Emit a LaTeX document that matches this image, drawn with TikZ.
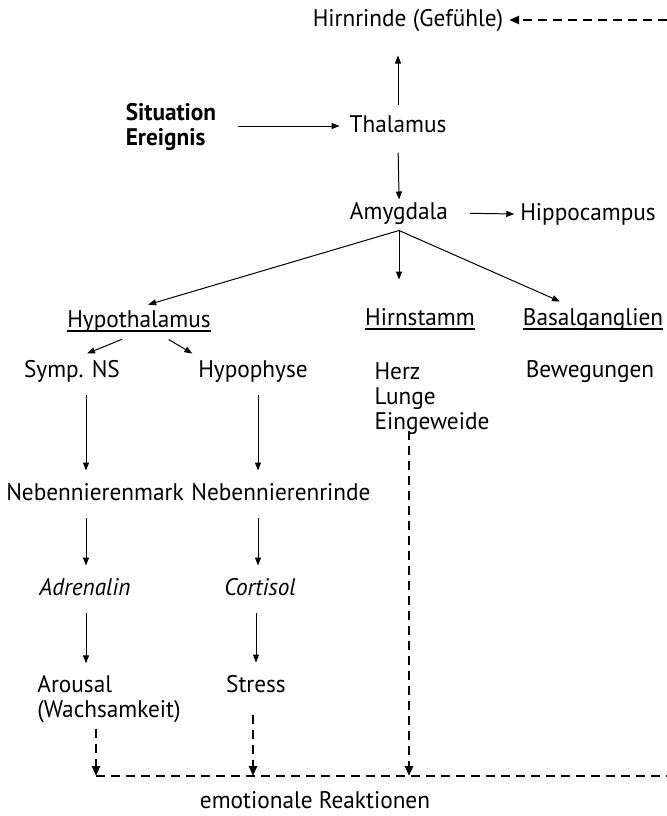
\documentclass[tikz,border=0pt]{standalone}
\usepackage{fontspec}
\setmainfont{PT Sans}[FakeStretch=0.97]
\usetikzlibrary{arrows.meta}
\newcommand{\unterstrich}[1]{\setbox0\hbox{#1}\rlap{\rule[-2pt]{\wd0}{0.6pt}}\box0}

\begin{document}
\begin{tikzpicture}[x=0.5pt, y=-0.5pt,
                every node/.style={inner sep=0pt, outer sep=3pt, font=\fontsize{12}{12.5}\selectfont},
                term/.style={text height=9pt, text depth=2.5pt},
                arr/.style={draw, line width=0.5pt, -{Triangle[length=4pt, width=3pt]}, shorten <=3pt, shorten >=3pt},
                dasharr/.style={draw, line width=1.2pt, dash pattern=on 4.5pt off 3pt, -{Triangle[length=5pt, width=4pt]}},
                dashline/.style={draw, line width=1.2pt, dash pattern=on 4.5pt off 3pt}]
                \useasboundingbox (0,0) rectangle (667,816);

                \node[term] (hirnrinde) at (408,20) {Hirnrinde (Gefühle)};
                \node[align=left, font=\fontsize{12}{12.5}\selectfont\bfseries] (situation) at (171,127) {Situation\\Ereignis};
                \node[term] (thalamus) at (398,126) {Thalamus};
                \node[term] (amygdala) at (399,213) {Amygdala};
                \node[term] (hippocampus) at (588,214) {Hippocampus};
                \node[term] (hypothalamus) at (139,321) {\unterstrich{Hypothalamus}};
                \node[term] (hirnstamm) at (420,319) {\unterstrich{Hirnstamm}};
                \node[term] (basalganglien) at (593,319) {\unterstrich{Basalganglien}};
                \node[term] (sympns) at (72,371) {Symp. NS};
                \node[term] (hypophyse) at (253,371) {Hypophyse};
                \node[align=left] (organe) at (432,399) {Herz\\Lunge\\Eingeweide};
                \node[term] (bewegungen) at (590,371) {Bewegungen};
                \node[term] (nnmark) at (95,494) {Nebennierenmark};
                \node[term] (nnrinde) at (281,494) {Nebennierenrinde};
                \node[term] (adrenalin) at (85,589) {\itshape Adrenalin};
                \node[term] (cortisol) at (260,589) {\itshape Cortisol};
                \node[align=left] (arousal) at (109,699) {Arousal\\(Wachsamkeit)};
                \node[term] (stress) at (256,686) {Stress};
                \node[term] (reaktionen) at (315,802) {emotionale Reaktionen};

                \coordinate (spalteA) at (86,0);
                \coordinate (spalteB) at (258,0);
                \coordinate (sammelA) at (96,776);
                \coordinate (sammelB) at (253,776);
                \coordinate (sammelC) at (409,776);
                \coordinate (rechtsunten) at (667,776);
                \coordinate (rechtsoben) at (667,20);

                \draw[arr, shorten <=2pt, shorten >=9pt] (thalamus.north) -- (thalamus.north |- hirnrinde.south);
                \draw[arr, shorten <=8pt, shorten >=2pt] (situation.east |- thalamus) -- (thalamus.west);
                \draw[arr, shorten <=4.5pt, shorten >=-2pt] (thalamus.south) -- (amygdala.north);
                \draw[arr, shorten <=8pt, shorten >=0pt] (amygdala.east) -- (hippocampus.west);
                \draw[arr, shorten <=0pt, shorten >=-2pt] (amygdala.south) -- ([xshift=6.5pt]hypothalamus.north);
                \draw[arr, shorten <=0pt, shorten >=11pt] (amygdala.south) -- (amygdala.south |- hirnstamm.north);
                \draw[arr, shorten <=0pt, shorten >=0pt] (amygdala.south) -- ([xshift=-16.5pt]basalganglien.north);
                \draw[arr, shorten <=1pt, shorten >=0pt] ([xshift=-7.5pt]hypothalamus.south) -- ([xshift=7.5pt]sympns.north);
                \draw[arr, shorten <=1pt, shorten >=0pt] ([xshift=14pt]hypothalamus.south) -- (hypophyse.north west);

                \draw[arr] (sympns.south -| spalteA) -- (nnmark.north -| spalteA);
                \draw[arr] (nnmark.south -| spalteA) -- (adrenalin.north -| spalteA);
                \draw[arr] (adrenalin.south -| spalteA) -- (arousal.north -| spalteA);
                \draw[arr] (hypophyse.south -| spalteB) -- (nnrinde.north -| spalteB);
                \draw[arr] (nnrinde.south -| spalteB) -- (cortisol.north -| spalteB);
                \draw[arr] (cortisol.south -| stress.north) -- (stress.north);

                \draw[dasharr] (arousal.south -| sammelA) -- (sammelA);
                \draw[dasharr, shorten <=5.5pt] (stress.south -| sammelB) -- (sammelB);
                \draw[dasharr, shorten <=-5pt] (organe.south -| sammelC) -- (sammelC);
                \draw[dashline] (sammelA) -- (rechtsunten);
                \draw[dasharr] (rechtsoben) -- (hirnrinde.east);
            \end{tikzpicture}
\end{document}
